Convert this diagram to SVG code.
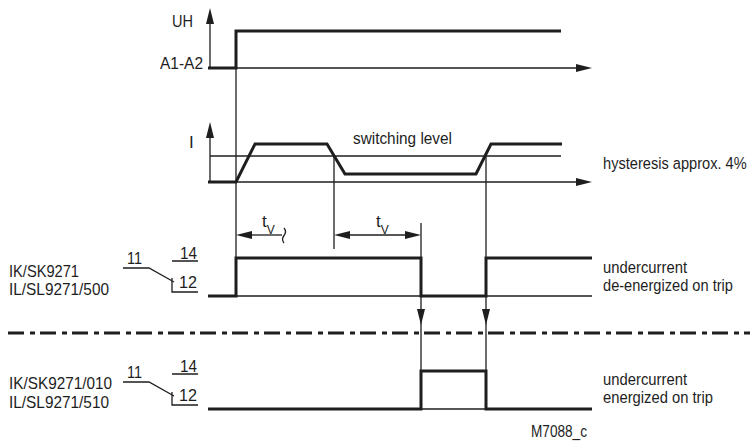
<svg xmlns="http://www.w3.org/2000/svg" width="750" height="446" viewBox="0 0 750 446">
<style>
  .t { font-family: "Liberation Sans Narrow", "Liberation Sans", Arial, sans-serif; font-size: 17px; fill: #1e1e1e; }
  .thin { stroke: #1e1e1e; stroke-width: 1.3; fill: none; }
  .thick { stroke: #1e1e1e; stroke-width: 3; fill: none; stroke-linejoin: miter; }
  .ah { fill: #1e1e1e; stroke: none; }
  .dd { stroke: #1e1e1e; stroke-width: 3; fill: none; stroke-dasharray: 16 6 5 5; }
</style>
<rect width="750" height="446" fill="#ffffff"/>

<g id="uh-chart">
  <line class="thin" x1="210" y1="68" x2="210" y2="20"/>
  <polygon class="ah" points="210,8 206,24 214,24"/>
  <line class="thin" x1="210" y1="68" x2="578" y2="68"/>
  <polygon class="ah" points="592,68 576,64 576,72"/>
  <path class="thick" d="M208 68 H236 V31 H561"/>
  <text class="t" x="172" y="27" textLength="21" lengthAdjust="spacingAndGlyphs">UH</text>
  <text class="t" x="160" y="69" textLength="43" lengthAdjust="spacingAndGlyphs">A1-A2</text>
</g>

<g id="i-chart">
  <line class="thin" x1="210" y1="182" x2="210" y2="134"/>
  <polygon class="ah" points="210,122 206,138 214,138"/>
  <line class="thin" x1="210" y1="182" x2="578" y2="182"/>
  <polygon class="ah" points="592,182 576,178 576,186"/>
  <line class="thin" x1="210" y1="156" x2="561" y2="156"/>
  <path class="thick" d="M208 182 H236 L255 144 H327 L345 174 H476 L491 144 H562"/>
  <text class="t" x="189" y="148">I</text>
  <text class="t" x="353" y="144" textLength="99" lengthAdjust="spacingAndGlyphs">switching level</text>
  <text class="t" transform="translate(603,169) scale(0.86,1)">hysteresis approx. 4%</text>
</g>

<g id="connectors">
  <line class="thin" x1="236" y1="31" x2="236" y2="258"/>
  <line class="thin" x1="334" y1="156" x2="334" y2="249"/>
  <line class="thin" x1="486" y1="156" x2="486" y2="371"/>
  <line class="thin" x1="421" y1="223" x2="421" y2="371"/>
  <polygon class="ah" points="421,325 417,309 425,309"/>
  <polygon class="ah" points="486,325 482,309 490,309"/>
  <line class="thin" x1="250" y1="235" x2="282" y2="235"/>
  <polygon class="ah" points="236,235 252,231 252,239"/>
  <path class="thin" d="M284 228 q3 3.5 0 7.5 q-3 4 0 7.5"/>
  <line class="thin" x1="348" y1="235" x2="407" y2="235"/>
  <polygon class="ah" points="334,235 350,231 350,239"/>
  <polygon class="ah" points="421,235 405,231 405,239"/>
  <text class="t" x="262" y="227" font-size="16">t<tspan font-size="12" dy="7">V</tspan></text>
  <text class="t" x="376" y="227" font-size="16">t<tspan font-size="12" dy="7">V</tspan></text>
</g>

<g id="relay-1">
  <line class="thin" x1="236" y1="296" x2="592" y2="296"/>
  <path class="thick" d="M208 296 H236 V258 H421 V296 H486 V258 H592"/>
  <path class="thin" d="M123 268 H149 L174 282 M172 278 V292 H198 M172 261 H198"/>
  <text class="t" x="127" y="264" textLength="15" lengthAdjust="spacingAndGlyphs">11</text>
  <text class="t" x="180" y="259" textLength="17" lengthAdjust="spacingAndGlyphs">14</text>
  <text class="t" x="179" y="288" textLength="18" lengthAdjust="spacingAndGlyphs">12</text>
  <text class="t" x="9" y="277" textLength="70" lengthAdjust="spacingAndGlyphs">IK/SK9271</text>
  <text class="t" x="9" y="295" textLength="100" lengthAdjust="spacingAndGlyphs">IL/SL9271/500</text>
  <text class="t" x="603" y="273" textLength="84" lengthAdjust="spacingAndGlyphs">undercurrent</text>
  <text class="t" transform="translate(603,291) scale(0.86,1)">de-energized on trip</text>
</g>

<g id="separator">
  <line class="dd" x1="8" y1="333" x2="750" y2="333"/>
</g>

<g id="relay-2">
  <line class="thin" x1="421" y1="409" x2="486" y2="409"/>
  <path class="thick" d="M208 409 H421 V371 H486 V409 H592"/>
  <path class="thin" d="M123 382 H149 L174 396 M172 392 V405 H198 M172 374 H198"/>
  <text class="t" x="127" y="378" textLength="15" lengthAdjust="spacingAndGlyphs">11</text>
  <text class="t" x="180" y="372" textLength="17" lengthAdjust="spacingAndGlyphs">14</text>
  <text class="t" x="179" y="401" textLength="18" lengthAdjust="spacingAndGlyphs">12</text>
  <text class="t" x="9" y="389" textLength="103" lengthAdjust="spacingAndGlyphs">IK/SK9271/010</text>
  <text class="t" x="9" y="408" textLength="100" lengthAdjust="spacingAndGlyphs">IL/SL9271/510</text>
  <text class="t" x="603" y="385" textLength="84" lengthAdjust="spacingAndGlyphs">undercurrent</text>
  <text class="t" x="603" y="403" textLength="110" lengthAdjust="spacingAndGlyphs">energized on trip</text>
</g>

<g id="drawing-number">
  <text class="t" x="531" y="437" font-size="16" textLength="56" lengthAdjust="spacingAndGlyphs">M7088_c</text>
</g>
</svg>
